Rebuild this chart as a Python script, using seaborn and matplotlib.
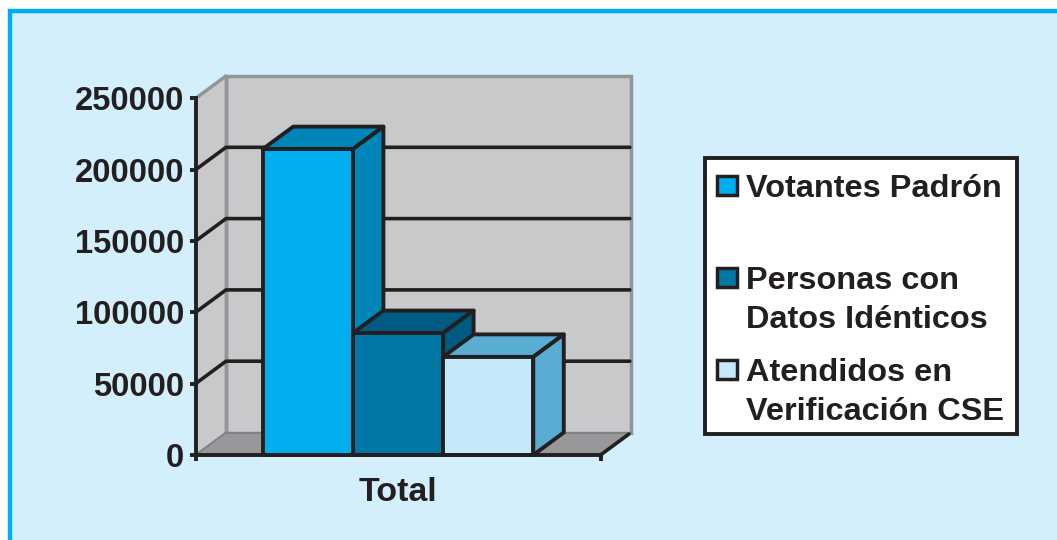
import pandas as pd
import matplotlib.pyplot as plt
from matplotlib.patches import Polygon, Rectangle
import seaborn as sns

# Data
series = ['Votantes Padrón', 'Personas con\nDatos Idénticos', 'Atendidos en\nVerificación CSE']
values = [214500, 85500, 68800]
category = ['Total', 'Total', 'Total']
y_ticks = [0, 50000, 100000, 150000, 200000, 250000]

front_colors = ['#00AEEF', '#0078A6', '#C5E8FB']
top_colors = ['#0085B8', '#005B82', '#5AADD2']
side_colors = ['#0085B8', '#005B82', '#5AADD2']

DARK = '#231F20'
W, H = 1057, 540

sns.set_style('white')
plt.rcParams['font.family'] = ['Liberation Sans', 'DejaVu Sans']
plt.rcParams['font.weight'] = 'bold'

df = pd.DataFrame({'grupo': category, 'serie': series, 'valor': values})

fig = plt.figure(figsize=(W / 100, H / 100), dpi=100, facecolor='white')


def fx(x):
    return x / W


def fy(y):
    return 1 - y / H


# Panel background with the blue frame, running off the right and bottom edges
fig.add_artist(Rectangle((fx(10), fy(560)), fx(1100), fy(11) - fy(560), transform=fig.transFigure,
                         facecolor='#D3EFFC', edgecolor='#00AEEF', linewidth=3.2, zorder=-1))

ax = fig.add_axes([fx(195.5), fy(455), fx(405), fy(98.5) - fy(455)])
ax.set_facecolor('none')

sns.barplot(data=df, x='grupo', y='valor', hue='serie', hue_order=series, palette=front_colors,
            width=0.668, gap=0, legend=False, ax=ax, edgecolor=DARK, linewidth=2.8, saturation=1)
ax.set_xlim(-0.5, 0.5)
ax.set_ylim(0, 250000)

# Depth of the fake 3D box, in data units
dx = 30.5 / 405
dy = 22.5 / 356.5 * 250000
x0, x1 = -0.5, 0.5
top = y_ticks[-1]

ax.add_patch(Polygon([(x0, 0), (x0 + dx, dy), (x0 + dx, top + dy), (x0, top)], closed=True,
                     facecolor='#C8C9CB', edgecolor='none', clip_on=False, zorder=0.5))
ax.add_patch(Polygon([(x0 + dx, dy), (x1 + dx, dy), (x1 + dx, top + dy), (x0 + dx, top + dy)], closed=True,
                     facecolor='#C8C9CB', edgecolor='#939598', linewidth=2.5, clip_on=False, zorder=0.6))
ax.add_patch(Polygon([(x0, 0), (x1, 0), (x1 + dx, dy), (x0 + dx, dy)], closed=True,
                     facecolor='#97989A', edgecolor='none', clip_on=False, zorder=0.7))
ax.plot([x0 + dx, x0 + dx], [dy, top + dy], color='#939598', lw=2.5, clip_on=False, zorder=0.8)
ax.plot([x0 + dx, x1 + dx], [dy, dy], color='#808285', lw=1.5, clip_on=False, zorder=0.8)
ax.plot([x0, x0 + dx], [top, top + dy], color='#939598', lw=2.5, clip_on=False, zorder=0.8)
ax.plot([x0, x0 + dx], [0, dy], color='#808285', lw=1.5, clip_on=False, zorder=0.8)
ax.plot([x1, x1 + 0.93 * dx], [0, 0.93 * dy], color=DARK, lw=2.6, clip_on=False, zorder=0.9)

# Gridlines bend at the corner of side wall and back wall
for v in y_ticks[1:-1]:
    ax.plot([x0, x0 + dx, x1 + dx * 0.96], [v, v + dy, v + dy], color=DARK, lw=2.6,
            clip_on=False, zorder=1, solid_joinstyle='miter')

# Top and side faces of each bar, taken from the bar seaborn drew
for i, container in enumerate(ax.containers):
    z = 3 + i
    for bar in container:
        bx0, bx1 = bar.get_x(), bar.get_x() + bar.get_width()
        h = bar.get_height()
        bar.set_zorder(z + 0.2)
        bar.set_joinstyle('miter')
        bar.set_clip_on(False)
        ax.add_patch(Polygon([(bx0, h), (bx1, h), (bx1 + dx, h + dy), (bx0 + dx, h + dy)], closed=True,
                             facecolor=top_colors[i], edgecolor=DARK, linewidth=2.8,
                             clip_on=False, zorder=z, joinstyle='round'))
        ax.add_patch(Polygon([(bx1, 0), (bx1 + dx, dy), (bx1 + dx, h + dy), (bx1, h)], closed=True,
                             facecolor=side_colors[i], edgecolor=DARK, linewidth=2.8,
                             clip_on=False, zorder=z, joinstyle='round'))

for side in ['top', 'right']:
    ax.spines[side].set_visible(False)
for side in ['left', 'bottom']:
    ax.spines[side].set_color(DARK)
    ax.spines[side].set_linewidth(2.8)
    ax.spines[side].set_zorder(10)

ax.set_yticks(y_ticks)
ax.set_yticklabels([str(v) for v in y_ticks])
ax.set_xticks([x0, x1])
ax.set_xticklabels(['', ''])
ax.tick_params(axis='both', which='major', left=True, bottom=True, length=4.5, width=2.8, color=DARK,
               labelsize=23.6, labelcolor=DARK, pad=3.5)
ax.set_ylabel('')
ax.set_xlabel('Total', fontsize=24.5, fontweight='bold', color=DARK, labelpad=8)

# Legend box
fig.add_artist(Rectangle((fx(705), fy(434)), fx(312), fy(158) - fy(434), transform=fig.transFigure,
                         facecolor='white', edgecolor=DARK, linewidth=2.8))
legend_y = [185, 277, 369]
for name, color, ly in zip(series, front_colors, legend_y):
    fig.add_artist(Rectangle((fx(716.5), fy(ly + 9.5)), fx(20), fy(ly - 9.5) - fy(ly + 9.5),
                             transform=fig.transFigure, facecolor=color, edgecolor=DARK, linewidth=2.5))
    for j, line in enumerate(name.split('\n')):
        fig.text(fx(746), fy(ly + 12 + j * 39.5), line, fontsize=23.4, fontweight='bold', color=DARK,
                 ha='left', va='baseline')

fig.savefig('out.png', dpi=100)
